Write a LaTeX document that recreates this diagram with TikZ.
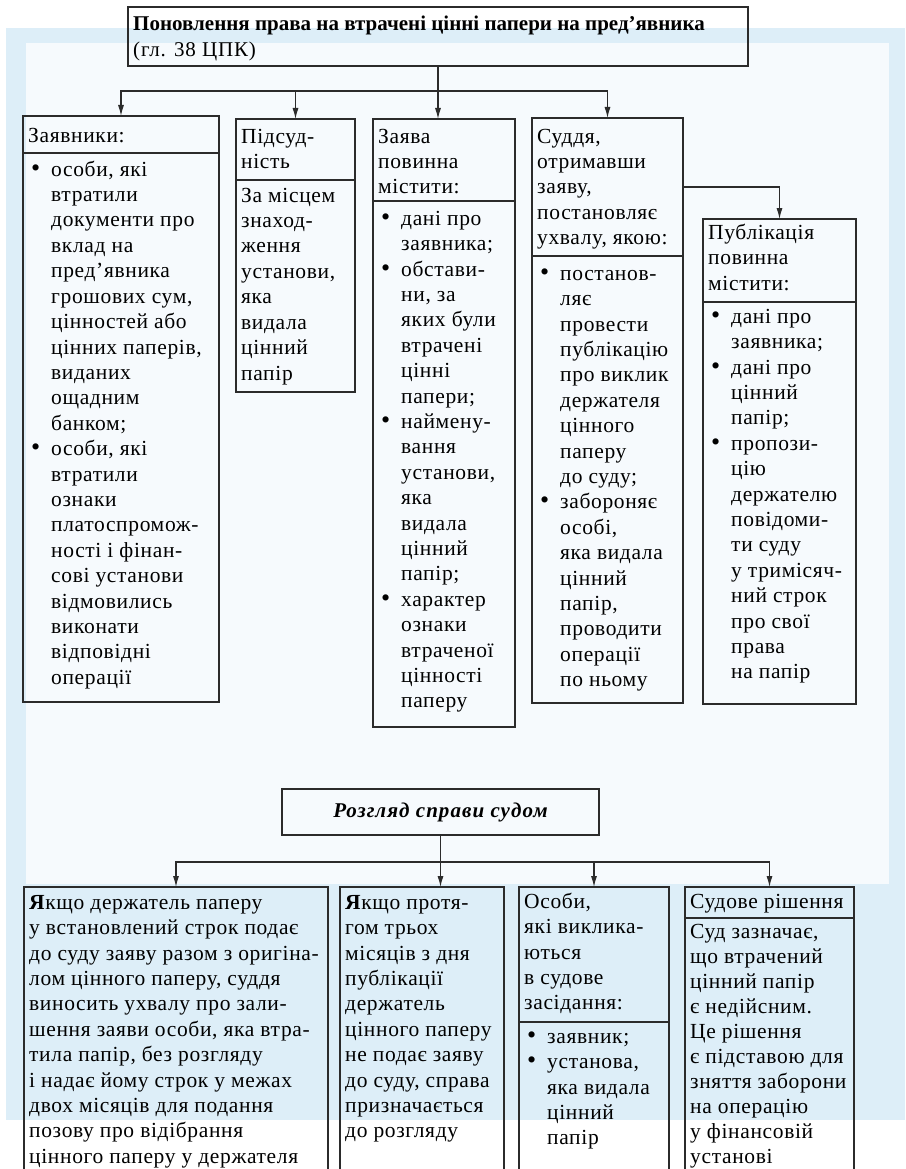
\documentclass[tikz,border=0pt]{standalone}
\usepackage{fontspec}
\setmainfont{Liberation Serif}
\usetikzlibrary{arrows.meta,positioning}
\definecolor{SchemeInk}{HTML}{2B2B2B}
\definecolor{SchemeWash}{HTML}{DDEEF8}
\definecolor{SchemePale}{HTML}{F6FAFD}
\newcommand{\cellfont}{\fontsize{21.5pt}{25.4pt}\selectfont\addfontfeatures{LetterSpace=3}}
\newcommand{\celllines}[1]{\begin{tabular}[t]{@{}l@{}}#1\end{tabular}}
\newcommand{\bul}{\makebox[23pt][l]{\hspace{3pt}{\fontsize{26pt}{0pt}\selectfont\textbullet}}}
\newcommand{\ind}{\hspace*{23pt}}
\tikzset{
  cellframe/.style={
    draw=SchemeInk,
    line width=1.1pt,
    anchor=north west,
    inner sep=0pt,
    outer sep=0pt
  },
  celltext/.style={
    anchor=north west,
    inner xsep=5pt,
    inner ysep=0pt,
    font=\cellfont,
    text height=#1pt
  },
  arrow/.style={-{Latex[length=11pt,width=6pt]},draw=SchemeInk,line width=1.1pt}
}

\begin{document}
\begin{tikzpicture}[x=1pt,y=-1pt]
  \useasboundingbox (0,0) rectangle (905,1169);
  % page wash behind the scheme
  \fill[SchemeWash] (6,28) rectangle (905,1120);
  \fill[SchemePale] (26,43) rectangle (889,884);

  % upper part
  \node[cellframe,minimum width=620pt,minimum height=59pt] (title) at (128,7) {};
  \node[celltext=23,font=\fontsize{21pt}{26.5pt}\selectfont] (title-t) at (title.north west)
    {\celllines{\textbf{Поновлення права на втрачені цінні папери на пред’явника}\\
     \addfontfeatures{LetterSpace=4}(гл. 38 ЦПК)}};

  \node[cellframe,minimum width=196pt,minimum height=37pt] (applh) at (23,116) {};
  \node[cellframe,minimum width=196pt,minimum height=549pt] (applb) at (23,153) {};
  \node[celltext=26] (applh-t) at (applh.north west) {Заявники:};
  \node[celltext=23] (applb-t) at (applb.north west) {\celllines{%
    \bul особи, які\\ \ind втратили\\ \ind документи про\\ \ind вклад на\\
    \ind пред’явника\\ \ind грошових сум,\\ \ind цінностей або\\ \ind цінних паперів,\\
    \ind виданих\\ \ind ощадним\\ \ind банком;\\
    \bul особи, які\\ \ind втратили\\ \ind ознаки\\ \ind платоспромож-\\
    \ind ності і фінан-\\ \ind сові установи\\ \ind відмовились\\ \ind виконати\\
    \ind відповідні\\ \ind операції}};

  \node[cellframe,minimum width=119pt,minimum height=61pt] (courth) at (236,119) {};
  \node[cellframe,minimum width=119pt,minimum height=212pt] (courtb) at (236,180) {};
  \node[celltext=24] (courth-t) at (courth.north west) {\celllines{Підсуд-\\ність}};
  \node[celltext=22] (courtb-t) at (courtb.north west)
    {\celllines{За місцем\\знаход-\\ження\\установи,\\яка\\видала\\цінний\\папір}};

  \node[cellframe,minimum width=142pt,minimum height=82pt] (claimh) at (373,119) {};
  \node[cellframe,minimum width=142pt,minimum height=526pt] (claimb) at (373,201) {};
  \node[celltext=24] (claimh-t) at (claimh.north west) {\celllines{Заява\\повинна\\містити:}};
  \node[celltext=24] (claimb-t) at (claimb.north west) {\celllines{%
    \bul дані про\\ \ind заявника;\\
    \bul обстави-\\ \ind ни, за\\ \ind яких були\\ \ind втрачені\\ \ind цінні\\ \ind папери;\\
    \bul наймену-\\ \ind вання\\ \ind установи,\\ \ind яка\\ \ind видала\\ \ind цінний\\ \ind папір;\\
    \bul характер\\ \ind ознаки\\ \ind втраченої\\ \ind цінності\\ \ind паперу}};

  \node[cellframe,minimum width=151pt,minimum height=138pt] (judgeh) at (532,118) {};
  \node[cellframe,minimum width=151pt,minimum height=447pt] (judgeb) at (532,256) {};
  \node[celltext=25] (judgeh-t) at (judgeh.north west)
    {\celllines{Суддя,\\отримавши\\заяву,\\постановляє\\ухвалу, якою:}};
  \node[celltext=24] (judgeb-t) at (judgeb.north west) {\celllines{%
    \bul постанов-\\ \ind ляє\\ \ind провести\\ \ind публікацію\\ \ind про виклик\\
    \ind держателя\\ \ind цінного\\ \ind паперу\\ \ind до суду;\\
    \bul забороняє\\ \ind особі,\\ \ind яка видала\\ \ind цінний\\ \ind папір,\\
    \ind проводити\\ \ind операції\\ \ind по ньому}};

  \node[cellframe,minimum width=153pt,minimum height=83pt] (pubh) at (703,219) {};
  \node[cellframe,minimum width=153pt,minimum height=402pt] (pubb) at (703,302) {};
  \node[celltext=20] (pubh-t) at (pubh.north west) {\celllines{Публікація\\повинна\\містити:}};
  \node[celltext=21] (pubb-t) at (pubb.north west) {\celllines{%
    \bul дані про\\ \ind заявника;\\
    \bul дані про\\ \ind цінний\\ \ind папір;\\
    \bul пропози-\\ \ind цію\\ \ind держателю\\ \ind повідоми-\\ \ind ти суду\\
    \ind у тримісяч-\\ \ind ний строк\\ \ind про свої\\ \ind права\\ \ind на папір}};

  \coordinate (fork) at (438,91);
  \draw[arrow] (title.south) -- (title.south |- claimh.north);
  \draw[arrow] (fork) -| (applh.north);
  \draw[arrow] (fork) -| (courth.north);
  \draw[arrow] (fork) -| (judgeh.north);
  \draw[arrow] (judgeh.east) -| (pubh.north);

  % lower part
  \node[cellframe,minimum width=317pt,minimum height=46pt] (review) at (282,789) {};
  \node[font=\fontsize{21pt}{25pt}\selectfont\bfseries\itshape\addfontfeatures{LetterSpace=5},
        inner sep=0pt] (review-t) at (review.center) {Розгляд справи судом};

  \node[cellframe,minimum width=304pt,minimum height=300pt] (ifa) at (24,887) {};
  \node[celltext=22] (ifa-t) at (ifa.north west) {\celllines{%
    \textbf{Я}кщо держатель паперу\\у встановлений строк подає\\
    до суду заяву разом з оригіна-\\лом цінного паперу, суддя\\
    виносить ухвалу про зали-\\шення заяви особи, яка втра-\\
    тила папір, без розгляду\\і надає йому строк у межах\\
    двох місяців для подання\\позову про відібрання\\цінного паперу у держателя}};

  \node[cellframe,minimum width=164pt,minimum height=300pt] (ifb) at (340,887) {};
  \node[celltext=22] (ifb-t) at (ifb.north west) {\celllines{%
    \textbf{Я}кщо протя-\\гом трьох\\місяців з дня\\публікації\\держатель\\
    цінного паперу\\не подає заяву\\до суду, справа\\призначається\\до розгляду}};

  \node[cellframe,minimum width=150pt,minimum height=135pt] (callh) at (519,887) {};
  \node[cellframe,minimum width=150pt,minimum height=170pt] (callb) at (519,1022) {};
  \node[celltext=21] (callh-t) at (callh.north west)
    {\celllines{Особи,\\які виклика-\\ються\\в судове\\засідання:}};
  \node[celltext=21] (callb-t) at (callb.north west)
    {\celllines{\bul заявник;\\ \bul установа,\\ \ind яка видала\\ \ind цінний\\ \ind папір}};

  \node[cellframe,minimum width=169pt,minimum height=31pt] (rulh) at (685,887) {};
  \node[cellframe,minimum width=169pt,minimum height=270pt] (rulb) at (685,918) {};
  \node[celltext=21] (rulh-t) at (rulh.north west) {Судове рішення};
  \node[celltext=20,font=\fontsize{21.5pt}{25pt}\selectfont\addfontfeatures{LetterSpace=3}]
    (rulb-t) at (rulb.north west) {\celllines{%
    Суд зазначає,\\що втрачений\\цінний папір\\є недійсним.\\Це рішення\\
    є підставою для\\зняття заборони\\на операцію\\у фінансовій\\установі}};

  \coordinate (fork2) at (440,862);
  \draw[arrow] (review.south) -- (review.south |- ifb.north);
  \draw[arrow] (fork2) -| (ifa.north);
  \draw[arrow] (fork2) -| (callh.north);
  \draw[arrow] (fork2) -| (rulh.north);
\end{tikzpicture}
\end{document}
